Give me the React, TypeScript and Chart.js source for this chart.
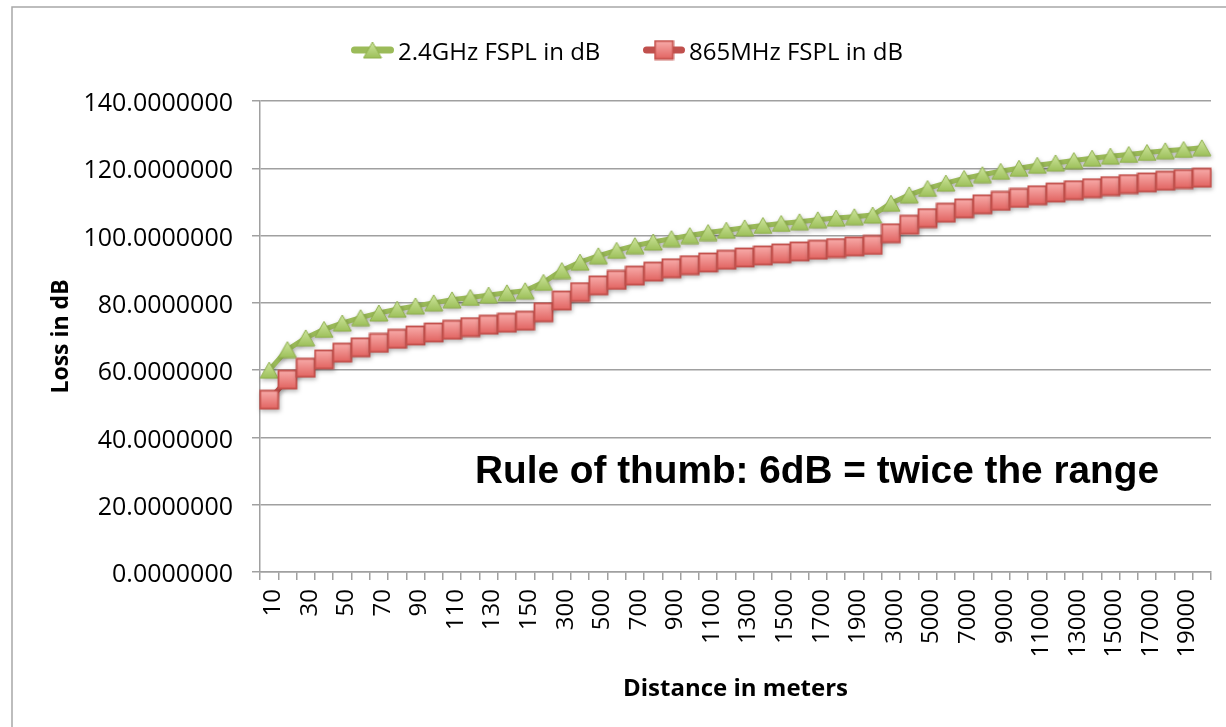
import React, { useEffect, useRef } from 'react';
import { Chart, registerables } from 'chart.js';

Chart.register(...registerables);

const distanceLabels = [
  '10', '20', '30', '40', '50', '60', '70', '80', '90', '100', '110', '120', '130', '140', '150',
  '200',
  '300', '400', '500', '600', '700', '800', '900', '1000', '1100', '1200', '1300', '1400', '1500',
  '1600', '1700', '1800', '1900', '2000',
  '3000', '4000', '5000', '6000', '7000', '8000', '9000', '10000', '11000', '12000', '13000',
  '14000', '15000', '16000', '17000', '18000', '19000', '20000',
];

const fspl24GHz = [
  60.0, 66.1, 69.6, 72.1, 74.0, 75.6, 77.0, 78.1, 79.1, 80.0, 80.9, 81.6, 82.3, 83.0, 83.6,
  86.1,
  89.6, 92.1, 94.0, 95.6, 97.0, 98.1, 99.1, 100.0, 100.9, 101.6, 102.3, 103.0, 103.6,
  104.1, 104.7, 105.2, 105.6, 106.1,
  109.6, 112.1, 114.0, 115.6, 117.0, 118.1, 119.1, 120.0, 120.9, 121.6, 122.3,
  123.0, 123.6, 124.1, 124.7, 125.2, 125.6, 126.1,
];

const fspl865MHz = [
  51.2, 57.2, 60.7, 63.2, 65.2, 66.8, 68.1, 69.3, 70.3, 71.2, 72.0, 72.8, 73.5, 74.1, 74.7,
  77.2,
  80.7, 83.2, 85.2, 86.8, 88.1, 89.3, 90.3, 91.2, 92.0, 92.8, 93.5, 94.1, 94.7,
  95.3, 95.8, 96.3, 96.8, 97.2,
  100.7, 103.2, 105.2, 106.8, 108.1, 109.3, 110.3, 111.2, 112.0, 112.8, 113.5,
  114.1, 114.7, 115.3, 115.8, 116.3, 116.8, 117.2,
];

const seriesNames = ['2.4GHz FSPL in dB', '865MHz FSPL in dB'];
const yMin = 0;
const yMax = 140;
const yStep = 20;
const xTitle = 'Distance in meters';
const yTitle = 'Loss in dB';
const noteText = 'Rule of thumb: 6dB = twice the range';

const GREEN = '#9bbb59';
const RED = '#c0504d';
const GRID = '#a0a0a0';
const FONT = "'Open Sans', 'Noto Sans', sans-serif";

function makeTriangle(): HTMLCanvasElement {
  const c = document.createElement('canvas');
  c.width = 20;
  c.height = 18;
  const g = c.getContext('2d')!;
  const grad = g.createLinearGradient(0, 1, 0, 17);
  grad.addColorStop(0, '#cfe69f');
  grad.addColorStop(1, '#9dc05a');
  g.beginPath();
  g.moveTo(10, 1);
  g.lineTo(19, 17);
  g.lineTo(1, 17);
  g.closePath();
  g.fillStyle = grad;
  g.fill();
  g.strokeStyle = '#8fb04c';
  g.lineWidth = 1;
  g.stroke();
  return c;
}

function makeSquare(): HTMLCanvasElement {
  const c = document.createElement('canvas');
  c.width = 21;
  c.height = 21;
  const g = c.getContext('2d')!;
  const grad = g.createLinearGradient(0, 1, 0, 20);
  grad.addColorStop(0, '#f8adab');
  grad.addColorStop(1, '#e1625f');
  g.fillStyle = grad;
  g.fillRect(1.5, 1.5, 18, 18);
  g.strokeStyle = '#c4504c';
  g.lineWidth = 1.8;
  g.strokeRect(1.5, 1.5, 18, 18);
  return c;
}

export default function App() {
  const canvasRef = useRef<HTMLCanvasElement | null>(null);

  useEffect(() => {
    const canvas = canvasRef.current;
    if (!canvas) return;
    const tri = makeTriangle();
    const sq = makeSquare();

    const framePlugin = {
      id: 'frame',
      beforeDraw(chart: any) {
        const ctx = chart.ctx;
        ctx.save();
        ctx.fillStyle = '#ffffff';
        ctx.fillRect(0, 0, chart.width, chart.height);
        ctx.strokeStyle = '#a8a8a8';
        ctx.lineWidth = 1.5;
        ctx.beginPath();
        ctx.moveTo(12, chart.height + 5);
        ctx.lineTo(12, 7);
        ctx.lineTo(chart.width + 5, 7);
        ctx.stroke();
        ctx.restore();
      },
    };

    const shadowPlugin = {
      id: 'shadow',
      beforeDatasetsDraw(chart: any) {
        const ctx = chart.ctx;
        ctx.save();
        ctx.shadowColor = 'rgba(0,0,0,0.28)';
        ctx.shadowBlur = 4;
        ctx.shadowOffsetX = 1;
        ctx.shadowOffsetY = 2;
      },
      afterDatasetsDraw(chart: any) {
        chart.ctx.restore();
      },
    };

    const overlayPlugin = {
      id: 'overlay',
      afterDraw(chart: any) {
        const ctx = chart.ctx;
        ctx.save();
        // legend
        const items = [
          { x0: 351, x1: 394, color: GREEN, img: tri, tx: 398, text: seriesNames[0] },
          { x0: 643, x1: 685, color: RED, img: sq, tx: 689, text: seriesNames[1] },
        ];
        const ly = 50;
        items.forEach((it) => {
          ctx.strokeStyle = it.color;
          ctx.lineWidth = 7;
          ctx.lineCap = 'round';
          ctx.beginPath();
          ctx.moveTo(it.x0 + 3.5, ly);
          ctx.lineTo(it.x1 - 3.5, ly);
          ctx.stroke();
          const cx = (it.x0 + it.x1) / 2;
          ctx.drawImage(it.img, cx - it.img.width / 2, ly - it.img.height / 2);
          ctx.fillStyle = '#000';
          ctx.font = `24px ${FONT}`;
          ctx.textAlign = 'left';
          ctx.textBaseline = 'alphabetic';
          ctx.fillText(it.text, it.tx, 60);
        });
        // annotation
        ctx.font = 'bold 39px "Liberation Sans", Arial, sans-serif';
        ctx.textAlign = 'left';
        ctx.textBaseline = 'alphabetic';
        const w = ctx.measureText(noteText).width;
        ctx.translate(475, 483);
        ctx.scale(684 / w, 1);
        ctx.fillStyle = '#000';
        ctx.fillText(noteText, 0, 0);
        ctx.restore();
      },
    };

    const chart = new Chart(canvas, {
      type: 'line',
      data: {
        labels: distanceLabels,
        datasets: [
          {
            label: seriesNames[0],
            data: fspl24GHz,
            borderColor: GREEN,
            backgroundColor: GREEN,
            borderWidth: 5,
            pointStyle: tri as any,
            pointRadius: 10,
            tension: 0,
            order: 1,
            clip: false as any,
          },
          {
            label: seriesNames[1],
            data: fspl865MHz,
            borderColor: RED,
            backgroundColor: RED,
            borderWidth: 5,
            pointStyle: sq as any,
            pointRadius: 10,
            tension: 0,
            order: 0,
            clip: false as any,
          },
        ],
      },
      options: {
        responsive: false,
        animation: false,
        devicePixelRatio: 1,
        layout: { padding: { left: 12, top: 101, right: 8, bottom: 0 } },
        plugins: {
          legend: { display: false },
          tooltip: { enabled: false },
        },
        scales: {
          x: {
            type: 'category',
            offset: true,
            grid: {
              offset: true,
              drawOnChartArea: false,
              drawTicks: true,
              tickLength: 8,
              color: GRID,
              lineWidth: 1.5,
            },
            border: { display: true, color: GRID, width: 1.5 },
            ticks: {
              autoSkip: false,
              minRotation: 90,
              maxRotation: 90,
              padding: 9,
              labelOffset: 4,
              color: '#000',
              font: { family: FONT, size: 24 },
              callback: (_v: any, i: number) => (i % 2 === 0 ? distanceLabels[i] : ''),
            },
            title: {
              display: true,
              text: xTitle,
              color: '#000',
              font: { family: FONT, size: 24, weight: 'bold' },
              padding: { top: 0, bottom: 23 },
            },
            afterFit: (scale: any) => {
              scale.height = 155;
              scale.paddingLeft = 0;
              scale.paddingRight = 0;
            },
          },
          y: {
            min: yMin,
            max: yMax,
            grid: {
              color: GRID,
              lineWidth: 1.5,
              drawTicks: true,
              tickLength: 8,
            },
            border: { display: true, color: GRID, width: 1.5 },
            ticks: {
              stepSize: yStep,
              padding: 19,
              labelOffset: 3,
              color: '#000',
              font: { family: FONT, size: 25 },
              callback: (v: any) => Number(v).toFixed(7),
            },
            title: {
              display: true,
              text: yTitle,
              color: '#000',
              font: { family: FONT, size: 23, weight: 'bold' },
              padding: { top: 36, bottom: 0 },
            },
            afterFit: (scale: any) => {
              scale.width = 248;
              scale.paddingTop = 0;
              scale.paddingBottom = 0;
            },
          },
        },
      },
      plugins: [framePlugin, shadowPlugin, overlayPlugin],
    } as any);

    return () => {
      chart.destroy();
    };
  }, []);

  return (
    <div
      style={{
        position: 'fixed',
        left: 0,
        top: 0,
        width: 1226,
        height: 727,
        overflow: 'hidden',
        background: '#fff',
      }}
    >
      <canvas ref={canvasRef} width={1226} height={727} style={{ display: 'block' }} />
    </div>
  );
}
